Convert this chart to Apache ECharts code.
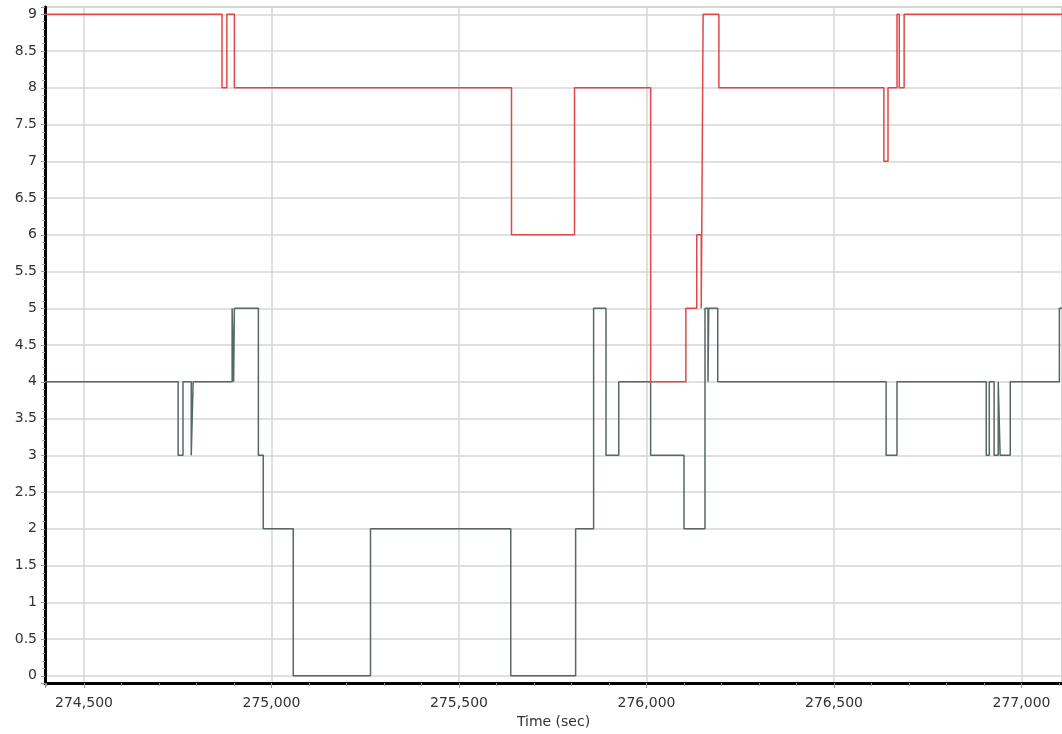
<!DOCTYPE html>
<html>
<head>
<meta charset="utf-8">
<script src="https://cdn.jsdelivr.net/npm/echarts@6/dist/echarts.min.js"></script>
<style>
html,body{margin:0;padding:0;background:#fff;}
#chart{width:1062px;height:734px;}
</style>
</head>
<body>
<div id="chart"></div>
<script>
// Red series: [time (sec), value] at each change point
const redTimes  = [274396, 274868, 274881, 274901, 275640, 275808, 276011, 276105, 276134, 276146, 276151, 276193, 276633, 276644, 276668, 276674, 276687, 277108];
const redValues = [9,      8,      9,      8,      6,      8,      4,      5,      6,      5,      9,      8,      7,      8,      9,      8,      9,      9];

// Grey series
const greyTimes  = [274396, 274751, 274764, 274786, 274791, 274895, 274899, 274901, 274965, 274978, 275058, 275264, 275638, 275811, 275859, 275892, 275926, 276011, 276100, 276156, 276164, 276166, 276190, 276639, 276668, 276906, 276914, 276927, 276938, 276943, 276970, 277101, 277108];
const greyValues = [4,      3,      4,      3,      4,      5,      4,      5,      3,      2,      0,      2,      0,      2,      5,      3,      4,      3,      2,      5,      4,      5,      4,      3,      4,      3,      4,      3,      4,      3,      4,      5,      5];

// Axis settings
const xMin = 274396, xMax = 277108;
const yMin = -0.1, yMax = 9.1;
const xName = 'Time (sec)';

function zip(a, b) { return a.map((t, i) => [t, b[i]]); }

const chart = echarts.init(document.getElementById('chart'), null, {renderer: 'canvas'});
const font = 'DejaVu Sans';
chart.setOption({
  animation: false,
  backgroundColor: '#ffffff',
  grid: {
    left: 45, top: 7, right: 0, bottom: 48,
    show: true, borderColor: '#a8a8a8', borderWidth: 1
  },
  xAxis: {
    type: 'value', min: xMin, max: xMax, splitNumber: 5,
    name: xName, nameLocation: 'middle', nameGap: 30,
    nameTextStyle: {fontFamily: font, fontSize: 14, color: '#333'},
    axisLine: {show: true, onZero: false, lineStyle: {color: '#000', width: 3}},
    axisTick: {show: true, length: 5, lineStyle: {color: '#999', width: 1}},
    minorTick: {show: true, splitNumber: 5, length: 3, lineStyle: {color: '#999', width: 1}},
    axisLabel: {
      showMinLabel: false, showMaxLabel: false, margin: 13,
      fontFamily: font, fontSize: 14, color: '#333',
      formatter: v => Math.round(v).toLocaleString('en-US')
    },
    splitLine: {show: true, lineStyle: {color: '#d6d6d6', width: 1.5}}
  },
  yAxis: {
    type: 'value', min: yMin, max: yMax, splitNumber: 18,
    axisLine: {show: true, onZero: false, lineStyle: {color: '#000', width: 3}},
    axisTick: {show: true, length: 4, lineStyle: {color: '#999', width: 1}},
    minorTick: {show: true, splitNumber: 5, length: 3, lineStyle: {color: '#aaa', width: 1}},
    axisLabel: {
      showMinLabel: false, showMaxLabel: false, margin: 8,
      fontFamily: font, fontSize: 14, color: '#333'
    },
    splitLine: {show: true, lineStyle: {color: '#d6d6d6', width: 1.5}}
  },
  series: [
    {
      type: 'line', step: 'end', showSymbol: false, symbol: 'none',
      data: zip(greyTimes, greyValues),
      lineStyle: {color: '#566767', width: 1.5},
      z: 2
    },
    {
      type: 'line', step: 'end', showSymbol: false, symbol: 'none',
      data: zip(redTimes, redValues),
      lineStyle: {color: '#e0474a', width: 1.5},
      z: 3
    }
  ]
});
</script>
</body>
</html>
